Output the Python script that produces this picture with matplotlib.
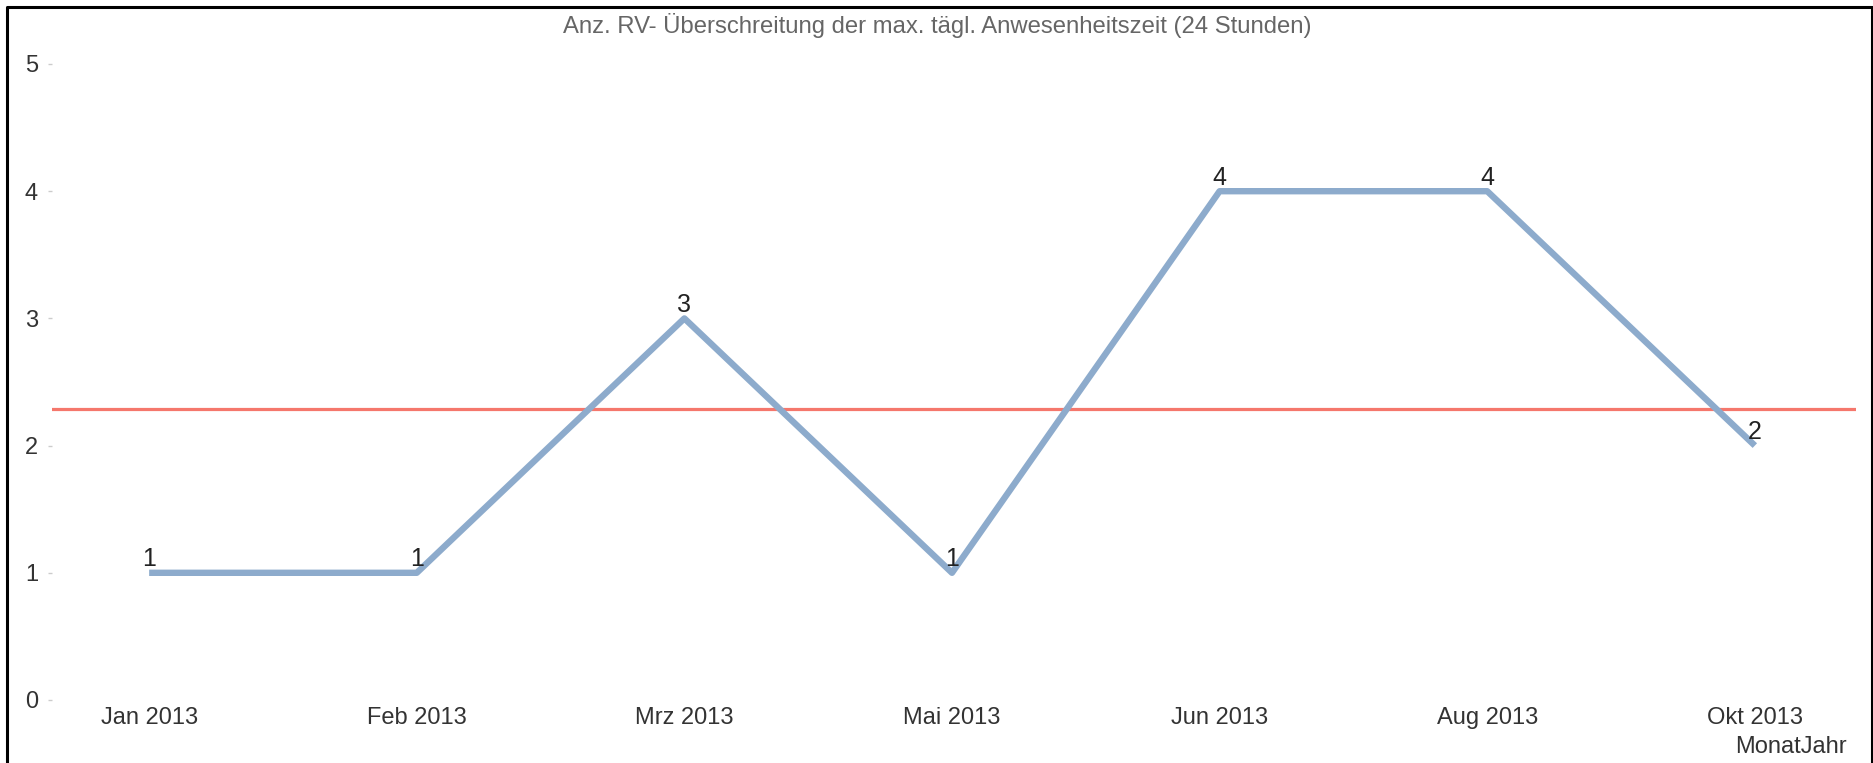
import matplotlib.pyplot as plt
from matplotlib.lines import Line2D

months = ["Jan 2013", "Feb 2013", "Mrz 2013", "Mai 2013", "Jun 2013", "Aug 2013", "Okt 2013"]
counts = [1, 1, 3, 1, 4, 4, 2]
y_ticks = [0, 1, 2, 3, 4, 5]

TITLE = "Anz. RV- Überschreitung der max. tägl. Anwesenheitszeit (24 Stunden)"
BLUE = "#8DABCC"
RED = "#F5776C"

plt.rcParams["font.family"] = ["Liberation Sans", "DejaVu Sans"]

fig = plt.figure(figsize=(18.74, 7.63), dpi=100)
ax = fig.add_axes([52 / 1874, 63 / 763, (1856 - 52) / 1874, (700 - 64) / 763])

x = list(range(len(months)))
mean_val = sum(counts) / len(counts)

ax.axhline(mean_val, color=RED, lw=2.3, zorder=2)
ax.plot(x, counts, color=BLUE, lw=4.6, solid_capstyle="butt", zorder=3)

for xi, v in zip(x, counts):
    ax.annotate(str(v), (xi, v), xytext=(0, 1), textcoords="offset points",
                ha="center", va="bottom", fontsize=18, color="#222222", zorder=4)

ax.set_xlim(-0.363, 6.378)
ax.set_ylim(0, 5)
ax.set_xticks(x)
ax.set_xticklabels(months, fontsize=17, color="#333333")
ax.set_yticks(y_ticks)
ax.set_yticklabels([str(t) for t in y_ticks], fontsize=17, color="#333333")
ax.tick_params(axis="x", length=0, pad=5)
ax.tick_params(axis="y", length=3, width=1, color="#cccccc", pad=7)
for s in ax.spines.values():
    s.set_visible(False)

fig.text(0.5, 1 - 26 / 763, TITLE, ha="center", va="center", fontsize=17.2,
         color="#666666")
fig.text(1847 / 1874, 1 - 747 / 763, "MonatJahr", ha="right", va="center",
         fontsize=17, color="#333333")

# frame around the chart (left, top, right)
fx = [7 / 1874, 7 / 1874, 1872 / 1874, 1872 / 1874]
fy = [0, 1 - 7 / 763, 1 - 7 / 763, 0]
fig.add_artist(Line2D(fx, fy, transform=fig.transFigure, color="black", lw=2.2))

plt.savefig("out.png", dpi=100)
